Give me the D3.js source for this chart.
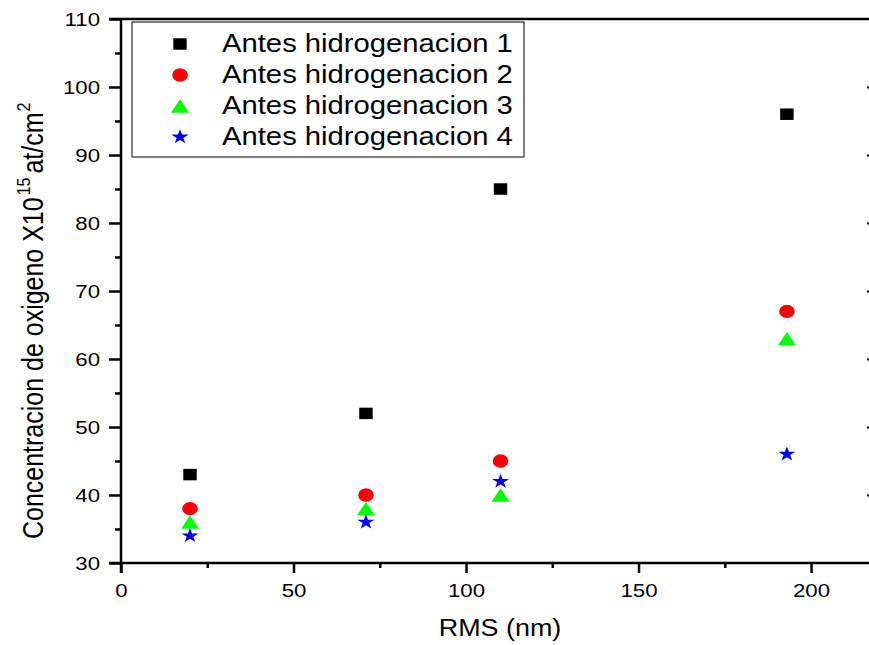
<!DOCTYPE html>
<html>
<head>
<meta charset="utf-8">
<script src="https://cdn.jsdelivr.net/npm/d3@7"></script>
<style>
  body { margin: 0; background: #fff; }
  text { font-family: "Liberation Sans", Arial, sans-serif; fill: #000; }
</style>
</head>
<body>
<div id="chart"></div>
<script>
// Data
var rmsValues = [20, 71, 110, 193];
var seriesNames = ["Antes hidrogenacion 1", "Antes hidrogenacion 2", "Antes hidrogenacion 3", "Antes hidrogenacion 4"];
var serie1 = [43, 52, 85, 96];
var serie2 = [38, 40, 45, 67];
var serie3 = [36, 38, 40, 63];
var serie4 = [34, 36, 42, 46];
var xTicks = [0, 50, 100, 150, 200];
var yTicks = [30, 40, 50, 60, 70, 80, 90, 100, 110];

var seriesValues = [serie1, serie2, serie3, serie4];
var seriesColors = ["#000000", "#ff0000", "#00ff00", "#0000ff"];
var seriesSymbols = [d3.symbolSquare, d3.symbolCircle, d3.symbolTriangle, d3.symbolStar];
var seriesSizes = [132, 139, 102, 67];

// the original picture is stretched sideways a bit
var sx = 1.17;

var svgWidth = 869;
var svgHeight = 645;

var plot = { left: 121, right: 869, top: 19, bottom: 563 };

var svg = d3.select("#chart")
  .append("svg")
  .attr("width", svgWidth)
  .attr("height", svgHeight);

// Scales
var xScale = d3.scaleLinear()
  .domain([0, 216.8])
  .range([plot.left, plot.right]);

var yScale = d3.scaleLinear()
  .domain([30, 110])
  .range([plot.bottom, plot.top]);

// Minor ticks first so the axis lines sit on top
svg.append("g")
  .attr("transform", `translate(0, ${plot.bottom})`)
  .call(d3.axisBottom(xScale).tickValues([25, 75, 125, 175]).tickSize(5).tickFormat(""))
  .call(g => g.select(".domain").remove())
  .selectAll("line").attr("stroke", "#000").attr("stroke-width", 2.5);

svg.append("g")
  .attr("transform", `translate(${plot.left}, 0)`)
  .call(d3.axisLeft(yScale).tickValues([35, 45, 55, 65, 75, 85, 95, 105]).tickSize(6).tickFormat(""))
  .call(g => g.select(".domain").remove())
  .selectAll("line").attr("stroke", "#000").attr("stroke-width", 2.5);

// right side: only tiny inward marks at the major values
svg.append("g")
  .attr("transform", `translate(${plot.right}, 0)`)
  .call(d3.axisRight(yScale).tickValues(yTicks.slice(1, -1)).tickSize(-2).tickFormat(""))
  .call(g => g.select(".domain").remove())
  .selectAll("line").attr("stroke", "#000").attr("stroke-width", 2);

// Bottom axis
var xAxis = svg.append("g")
  .attr("transform", `translate(0, ${plot.bottom})`)
  .call(d3.axisBottom(xScale).tickValues(xTicks).tickSize(10).tickSizeOuter(0));

xAxis.select(".domain")
  .attr("stroke", "#000")
  .attr("stroke-width", 2.5)
  .attr("d", `M${plot.left - 12},0H${plot.right}`);
xAxis.selectAll(".tick line").attr("stroke", "#000").attr("stroke-width", 2.5);
xAxis.selectAll(".tick text")
  .attr("y", 0)
  .attr("dy", 0)
  .attr("transform", `translate(0, 34) scale(${sx}, 1)`)
  .style("font-size", "19px")
  .style("font-family", "'Liberation Sans', Arial, sans-serif");

// Left axis
var yAxis = svg.append("g")
  .attr("transform", `translate(${plot.left}, 0)`)
  .call(d3.axisLeft(yScale).tickValues(yTicks).tickSize(12).tickSizeOuter(0));

yAxis.select(".domain")
  .attr("stroke", "#000")
  .attr("stroke-width", 2.5)
  .attr("d", `M0,${plot.top}V${plot.bottom + 10}`);
yAxis.selectAll(".tick line").attr("stroke", "#000").attr("stroke-width", 2.5);
yAxis.selectAll(".tick text")
  .attr("x", 0)
  .attr("transform", `translate(-21, 0) scale(${sx}, 1)`)
  .style("font-size", "19px")
  .style("font-family", "'Liberation Sans', Arial, sans-serif");

// Top frame line
svg.append("line")
  .attr("x1", plot.left - 12)
  .attr("x2", plot.right)
  .attr("y1", plot.top)
  .attr("y2", plot.top)
  .attr("stroke", "#000")
  .attr("stroke-width", 2.5);

// symbol path, with the triangle moved so its box is centred
function markerPath(i) {
  return d3.symbol().type(seriesSymbols[i]).size(seriesSizes[i])();
}
function markerShift(i) {
  if (seriesSymbols[i] === d3.symbolTriangle) {
    return Math.sqrt(seriesSizes[i] / (Math.sqrt(3) * 3)) / 2;
  }
  return 0;
}

// Points
seriesValues.forEach(function(values, i) {
  svg.append("g")
    .selectAll("path")
    .data(values)
    .enter()
    .append("path")
    .attr("d", markerPath(i))
    .attr("transform", (d, j) => `translate(${xScale(rmsValues[j])}, ${yScale(d) + markerShift(i)}) scale(${sx}, 1)`)
    .attr("fill", seriesColors[i]);
});

// Legend
var legend = svg.append("g");

legend.append("rect")
  .attr("x", 132)
  .attr("y", 22)
  .attr("width", 392)
  .attr("height", 135)
  .attr("fill", "#fff")
  .attr("stroke", "#000")
  .attr("stroke-width", 1);

var legendRows = legend.selectAll(".row")
  .data(seriesNames)
  .enter()
  .append("g")
  .attr("class", "row")
  .attr("transform", (d, i) => `translate(0, ${44 + i * 31})`);

legendRows.append("path")
  .attr("d", (d, i) => markerPath(i))
  .attr("transform", (d, i) => `translate(180, ${markerShift(i)}) scale(${sx}, 1)`)
  .attr("fill", (d, i) => seriesColors[i]);

legendRows.append("text")
  .attr("transform", `translate(222, 8) scale(${sx}, 1)`)
  .style("font-size", "25px")
  .text(d => d);

// Axis titles
svg.append("text")
  .attr("transform", `translate(500, 636) scale(${sx}, 1)`)
  .attr("text-anchor", "middle")
  .style("font-size", "23px")
  .text("RMS (nm)");

var yTitle = svg.append("text")
  .attr("transform", `translate(43, 539) scale(${sx}, 1) rotate(-90)`)
  .style("font-size", "25px");

yTitle.append("tspan").text("Concentracion de oxigeno X10");
yTitle.append("tspan").attr("dy", -11).attr("dx", 2).style("font-size", "16px").text("15");
yTitle.append("tspan").attr("dy", 11).attr("dx", 4).text("at/cm");
yTitle.append("tspan").attr("dy", -11).attr("dx", 1).style("font-size", "16px").text("2");
</script>
</body>
</html>
